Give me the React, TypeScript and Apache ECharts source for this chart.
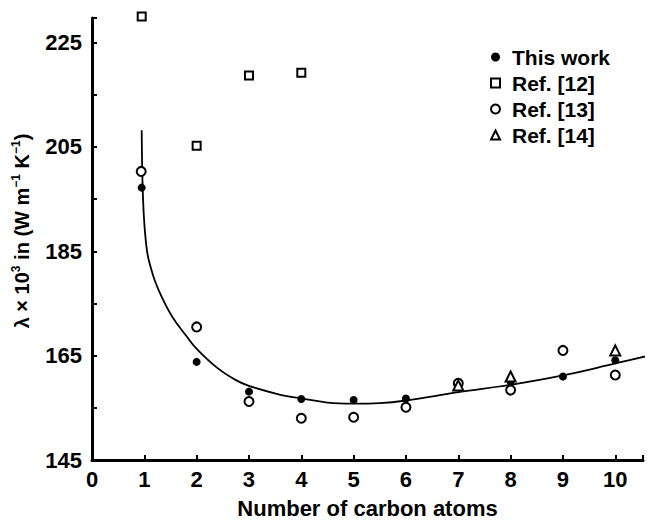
import React, { useEffect, useRef } from "react";
import * as echarts from "echarts";

// Baseline of the y axis (the axis is drawn in offsets from this value)
const Y0 = 145;
const yTickLabels = [145, 165, 185, 205, 225];
const xTickLabels = [0, 1, 2, 3, 4, 5, 6, 7, 8, 9, 10];

// This work (filled circles)
const thisWorkX = [0.95, 2, 3, 4, 5, 6, 7, 8, 9, 10];
const thisWorkY = [197.2, 163.8, 158.1, 156.7, 156.5, 156.8, 159.6, 160.0, 161.0, 164.1];

// Ref. [12] (open squares)
const ref12X = [0.95, 2, 3, 4];
const ref12Y = [230.0, 205.2, 218.7, 219.2];

// Ref. [13] (open circles)
const ref13X = [0.94, 2, 3, 4, 5, 6, 7, 8, 9, 10];
const ref13Y = [200.3, 170.5, 156.2, 153.0, 153.2, 155.1, 159.7, 158.4, 166.0, 161.3];

// Ref. [14] (open triangles)
const ref14X = [7, 8, 10];
const ref14Y = [159.3, 161.0, 166.0];

// Fitted curve
const curveX = [0.95, 0.96, 0.98, 1.01, 1.06, 1.12, 1.2, 1.33, 1.53, 1.8, 2.0, 2.4, 2.75, 3.0, 3.6, 4.0, 4.5, 5.0, 5.5, 6.0, 7.0, 8.0, 9.0, 10.0, 10.9];
const curveY = [208.2, 200.5, 194.0, 189.0, 184.5, 182.0, 179.4, 176.3, 172.5, 168.8, 166.3, 162.6, 160.3, 159.2, 157.5, 156.8, 156.0, 155.8, 155.9, 156.4, 158.0, 159.4, 161.2, 163.5, 165.6];

const pts = (xs: number[], ys: number[]) => xs.map((x, i) => [x, ys[i] - Y0]);

const FONT = "'Liberation Sans', 'DejaVu Sans', Arial, sans-serif";

export default function App() {
  const ref = useRef<HTMLDivElement>(null);
  useEffect(() => {
    document.body.style.margin = "0";
    const chart = echarts.init(ref.current!, null, { renderer: "svg" });
    const markerStyle = { color: "#000", borderColor: "#000", borderWidth: 2.5, opacity: 1 };
    chart.setOption({
      animation: false,
      backgroundColor: "#fff",
      textStyle: { fontFamily: FONT, color: "#000" },
      grid: { left: 92, right: 17, top: 18, bottom: 59.5, containLabel: false },
      legend: {
        orient: "vertical",
        left: 485,
        top: 41,
        itemWidth: 9,
        itemHeight: 9,
        itemGap: 4,
        data: ["This work", "Ref. [12]", "Ref. [13]", "Ref. [14]"],
        textStyle: {
          fontFamily: FONT,
          fontSize: 21,
          fontWeight: "bold",
          color: "#000",
          lineHeight: 22,
          padding: [0, 0, 0, 7],
        },
      },
      xAxis: {
        type: "value",
        min: 0,
        max: 10.53,
        interval: 1,
        name: "Number of carbon atoms",
        nameLocation: "middle",
        nameGap: 37,
        nameTextStyle: { fontFamily: FONT, fontSize: 22, fontWeight: "bold", color: "#000" },
        axisLine: { show: true, lineStyle: { color: "#000", width: 3 } },
        axisTick: { show: true, inside: true, length: 5, lineStyle: { color: "#000", width: 2 } },
        axisLabel: {
          fontFamily: FONT,
          fontSize: 22,
          fontWeight: "bold",
          color: "#000",
          margin: 8,
          formatter: (v: number) => (xTickLabels.includes(v) ? String(v) : ""),
        },
        splitLine: { show: false },
      },
      yAxis: {
        type: "value",
        min: 0,
        max: 84.7,
        interval: 10,
        name: "λ × 10{s|3} in (W m{s|−1} K{s|−1})",
        nameLocation: "middle",
        nameGap: 56,
        nameTextStyle: {
          fontFamily: FONT,
          fontSize: 20,
          fontWeight: "bold",
          color: "#000",
          lineHeight: 24,
          padding: [0, 0, 0, 16],
          rich: {
            s: { fontFamily: FONT, fontSize: 12, fontWeight: "bold", color: "#000", verticalAlign: "top", lineHeight: 14 },
          },
        },
        axisLine: { show: true, lineStyle: { color: "#000", width: 3 } },
        axisTick: { show: true, inside: true, length: 5, lineStyle: { color: "#000", width: 2 } },
        axisLabel: {
          fontFamily: FONT,
          fontSize: 22,
          fontWeight: "bold",
          color: "#000",
          margin: 10,
          formatter: (v: number) => (yTickLabels.includes(v + Y0) ? String(v + Y0) : ""),
        },
        splitLine: { show: false },
      },
      series: [
        {
          name: "curve",
          type: "line",
          data: pts(curveX, curveY),
          smooth: 0.4,
          symbol: "none",
          clip: false,
          lineStyle: { color: "#000", width: 1.8 },
          z: 1,
        },
        {
          name: "This work",
          type: "scatter",
          data: pts(thisWorkX, thisWorkY),
          symbol: "circle",
          symbolSize: 8,
          clip: false,
          itemStyle: { color: "#000", opacity: 1 },
          z: 3,
        },
        {
          name: "Ref. [12]",
          type: "scatter",
          data: pts(ref12X, ref12Y),
          symbol: "emptyRect",
          symbolSize: 8,
          clip: false,
          itemStyle: markerStyle,
          z: 3,
        },
        {
          name: "Ref. [13]",
          type: "scatter",
          data: pts(ref13X, ref13Y),
          symbol: "emptyCircle",
          symbolSize: 9,
          clip: false,
          itemStyle: markerStyle,
          z: 3,
        },
        {
          name: "Ref. [14]",
          type: "scatter",
          data: pts(ref14X, ref14Y),
          symbol: "emptyTriangle",
          symbolSize: 10,
          clip: false,
          itemStyle: markerStyle,
          z: 3,
        },
      ],
    });
    return () => chart.dispose();
  }, []);
  return <div ref={ref} style={{ position: "absolute", left: 0, top: 0, width: 660, height: 524 }} />;
}
